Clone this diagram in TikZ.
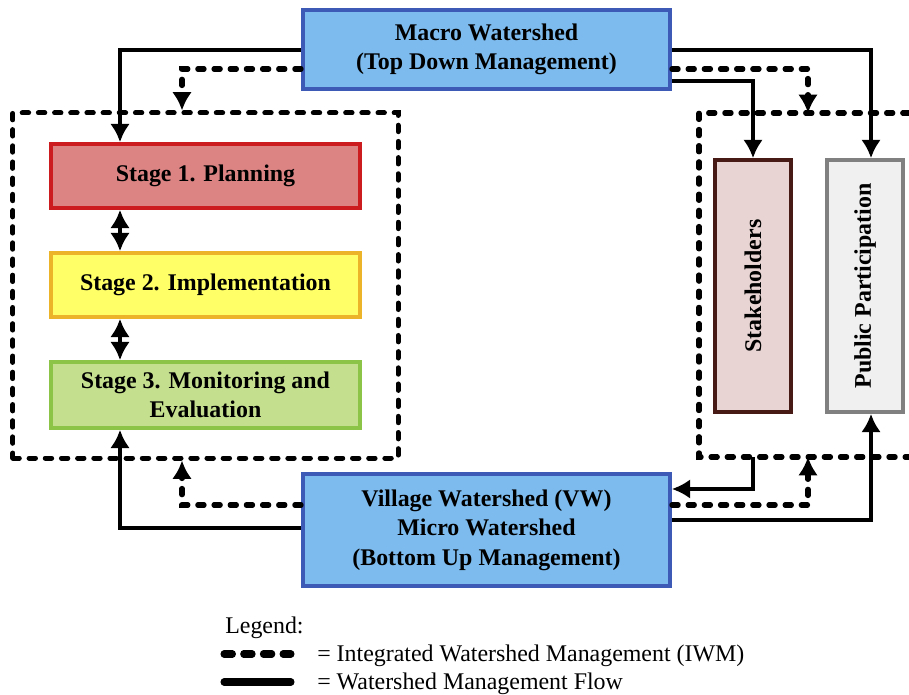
\documentclass[tikz,border=0pt]{standalone}
\usepackage{fontspec}
\usepackage{graphicx}
\setmainfont{Liberation Serif}
\usetikzlibrary{arrows.meta}
\definecolor{macrofill}{RGB}{125,187,238}
\definecolor{macroline}{RGB}{60,90,182}
\definecolor{planfill}{RGB}{220,132,132}
\definecolor{planline}{RGB}{205,28,32}
\definecolor{implfill}{RGB}{255,255,104}
\definecolor{implline}{RGB}{236,180,40}
\definecolor{evalfill}{RGB}{196,224,142}
\definecolor{evalline}{RGB}{140,196,72}
\definecolor{stakefill}{RGB}{232,212,210}
\definecolor{stakeline}{RGB}{72,26,22}
\definecolor{partfill}{RGB}{240,240,240}
\definecolor{partline}{RGB}{128,128,128}
\begin{document}
\begin{tikzpicture}[x=0.025cm, y=-0.025cm, >={Latex[length=13pt,width=14pt]},
  font=\fontsize{17}{21}\selectfont\bfseries,
  box/.style={draw, line width=2.6pt, align=center, inner sep=2pt},
  flow/.style={line width=2.6pt},
  iwm/.style={line width=3.6pt, dash pattern=on 4.5pt off 7pt, line cap=round}]
  \useasboundingbox (0,0) rectangle (909,695);
  % columnas de las flechas
  \coordinate (xa) at (120,0);
  \coordinate (xb) at (182,0);
  \coordinate (xc) at (753,0);
  \coordinate (xd) at (808,0);
  \coordinate (xe) at (871,0);
  % marcos IWM
  \node[iwm, draw, minimum width=9.625cm, minimum height=8.625cm] (lfr) at (205.5,285.5) {};
  \draw[iwm] (909,113) -- (699,113) -- (699,457) -- (909,457);
  \coordinate (rtop) at (699,113);
  \coordinate (rbot) at (699,457);
  % cajas
  \node[box, fill=macrofill, draw=macroline, minimum width=9.175cm, minimum height=1.975cm]
    (macro) at (486.5,49.5) {Macro Watershed\\(Top Down Management)};
  \node[box, fill=planfill, draw=planline, minimum width=7.725cm, minimum height=1.6cm]
    (s1) at (205.5,176) {Stage 1. Planning};
  \node[box, fill=implfill, draw=implline, minimum width=7.725cm, minimum height=1.6cm]
    (s2) at (205.5,285) {Stage 2. Implementation};
  \node[box, fill=evalfill, draw=evalline, minimum width=7.725cm, minimum height=1.65cm]
    (s3) at (205.5,395) {Stage 3. Monitoring and\\Evaluation};
  \node[box, fill=stakefill, draw=stakeline, minimum width=1.9cm, minimum height=6.3cm]
    (sh) at (753,286) {\rotatebox{90}{Stakeholders}};
  \node[box, fill=partfill, draw=partline, minimum width=1.9cm, minimum height=6.3cm]
    (pp) at (865,286) {\rotatebox{90}{Public Participation}};
  \node[box, fill=macrofill, draw=macroline, minimum width=9.175cm, minimum height=2.8cm]
    (village) at (486.5,530) {Village Watershed (VW)\\Micro Watershed\\(Bottom Up Management)};
  % etapas
  \foreach \a/\b in {s1/s2,s2/s3}
    \draw[flow,<->] (\a.south -| xa) -- (\b.north -| xa);
  % desde macro watershed
  \draw[flow,->] (macro.west |- 0,50) -| (s1.north -| xa);
  \draw[iwm,->] (macro.west |- 0,69) -| (lfr.north -| xb);
  \draw[flow,->] (macro.east |- 0,50) -| (pp.north -| xe);
  \draw[iwm,->] (macro.east |- 0,69) -| (rtop -| xd);
  \draw[flow,->] (macro.east |- 0,81) -| (sh.north);
  % desde village watershed
  \draw[flow,->] (village.west |- 0,528) -| (s3.south -| xa);
  \draw[iwm,->] (village.west |- 0,505) -| (lfr.south -| xb);
  \draw[flow,->] (rbot -| xc) |- (village.east |- 0,489);
  \draw[iwm,->] (village.east |- 0,505) -| (rbot -| xd);
  \draw[flow,->] (village.east |- 0,520) -| (pp.south -| xe);
  % leyenda
  \begin{scope}[font=\fontsize{17}{20}\selectfont]
    \node[anchor=base west, inner sep=0pt] (leg) at (225,633) {Legend:};
    \draw[line width=5pt, dash pattern=on 6pt off 8pt, line cap=round] (224,654) -- ++(67,0);
    \draw[line width=5pt, line cap=round] (224,682) -- ++(67,0);
    \node[anchor=base west, inner sep=0pt] (l1) at (317,661) {= Integrated Watershed Management (IWM)};
    \node[anchor=base west, inner sep=0pt] (l2) at (317,689) {= Watershed Management Flow};
  \end{scope}
\end{tikzpicture}
\end{document}
